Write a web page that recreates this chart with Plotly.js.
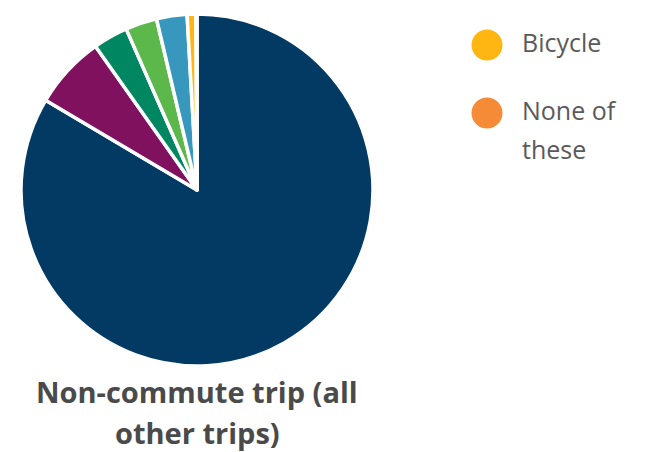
<!DOCTYPE html>
<html>
<head>
<meta charset="utf-8">
<script src="https://cdn.plot.ly/plotly-3.0.1.min.js"></script>
<style>html,body{margin:0;padding:0;background:#fff;}#chart{width:647px;height:452px;}</style>
</head>
<body>
<div id="chart"></div>
<script>
// Data
const modes = ["Drive alone", "Carpool", "Public transit", "Walk", "Other", "Bicycle", "None of these"];
const shares = [83.6, 6.7, 3.2, 2.9, 2.8, 0.8, 0.1];
const colors = ["#023A63", "#80115F", "#008762", "#5CB84B", "#3797BC", "#FFB612", "#F68B37"];
const legendLabels = ["Bicycle", "None of<br>these"];
const legendColors = ["#FFB612", "#F68B37"];
const titleText = "Non-commute trip (all<br>other trips)";

const W = 647, H = 452;

const pie = {
  type: "pie",
  labels: modes,
  values: shares,
  sort: false,
  direction: "clockwise",
  rotation: 0,
  textinfo: "none",
  hoverinfo: "label+percent",
  showlegend: false,
  marker: {colors: colors, line: {color: "#ffffff", width: 3.5}},
  domain: {x: [21 / W, 373 / W], y: [(H - 366) / H, (H - 14) / H]}
};

const legendY = [45, 113];
const legendMarkers = {
  type: "scatter",
  mode: "markers",
  x: legendLabels.map(() => 487),
  y: legendY,
  marker: {size: 31, color: legendColors, line: {width: 0}},
  hoverinfo: "skip",
  showlegend: false,
  xaxis: "x",
  yaxis: "y"
};

const annotations = [];
const legFont = {family: "'Open Sans', sans-serif", size: 25, weight: 400, color: "#5a5a5a"};
const legLineGap = 39;
legendLabels.forEach((t, i) => {
  t.split("<br>").forEach((line, j) => {
    annotations.push({
      text: line, xref: "x", yref: "y", x: 520, y: legendY[i] - 3 + j * legLineGap,
      xanchor: "left", yanchor: "middle", align: "left", showarrow: false,
      font: legFont
    });
  });
});
const titleFont = {family: "'Open Sans', sans-serif", size: 29, weight: 700, color: "#4a4a4a"};
titleText.split("<br>").forEach((line, j) => {
  annotations.push({
    text: line, xref: "x", yref: "y", x: 197, y: 391 + j * 41,
    xanchor: "center", yanchor: "middle", showarrow: false,
    font: titleFont
  });
});

const layout = {
  width: W, height: H,
  margin: {l: 0, r: 0, t: 0, b: 0, pad: 0},
  paper_bgcolor: "#ffffff", plot_bgcolor: "rgba(0,0,0,0)",
  showlegend: false,
  xaxis: {range: [0, W], visible: false, fixedrange: true, domain: [0, 1]},
  yaxis: {range: [H, 0], visible: false, fixedrange: true, domain: [0, 1]},
  annotations: annotations
};

Plotly.newPlot("chart", [pie, legendMarkers], layout, {displayModeBar: false, staticPlot: true});
</script>
</body>
</html>
